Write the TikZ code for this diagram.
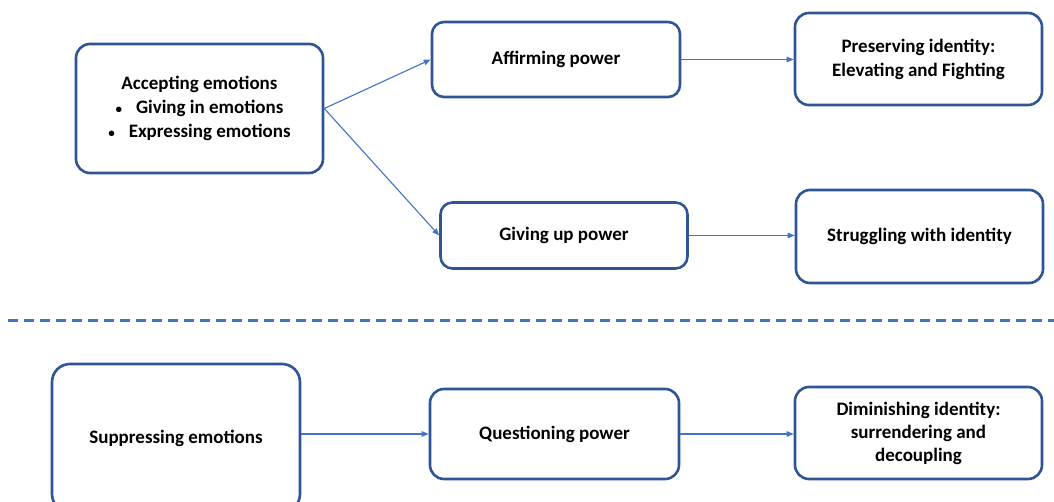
\documentclass[tikz,border=0pt]{standalone}
\usepackage{fontspec}
\setmainfont{Carlito}
\usetikzlibrary{arrows.meta}
\definecolor{boxblue}{HTML}{2F5597}
\definecolor{linkblue}{HTML}{4472C4}
\newcommand{\smallbul}{{\fontsize{13}{13}\selectfont\textbullet}}
\tikzset{
  box/.style={draw=boxblue, line width=2.6pt, rounded corners=14pt, fill=white,
    align=center, font=\fontsize{19}{24}\selectfont\bfseries, inner sep=2pt},
  link/.style={draw=linkblue, line width=1.1pt, -{Triangle[length=7pt,width=5.5pt]}},
}
\begin{document}
\begin{tikzpicture}[x=1pt,y=-1pt]
\clip (0,0) rectangle (1054,502);
\fill[white] (0,0) rectangle (1054,502);
\node[box, minimum width=247pt, minimum height=129pt] (acc) at (199.5,108.5)
  {Accepting emotions\\ \smallbul\hspace{14pt}Giving in emotions\\ \smallbul\hspace{14pt}Expressing emotions};
\node[box, minimum width=248pt, minimum height=75pt, rounded corners=12pt] (aff) at (556,59.5) {Affirming power};
\node[box, minimum width=247pt, minimum height=92pt] (pres) at (918.5,59) {Preserving identity:\\Elevating and Fighting};
\node[box, minimum width=247pt, minimum height=66pt, rounded corners=12pt] (giv) at (564,235.5) {Giving up power};
\node[box, minimum width=247pt, minimum height=93pt] (strug) at (919.5,236.5) {Struggling with identity};
\node[box, minimum width=248pt, minimum height=148pt, rounded corners=18pt] (sup) at (176,438) {Suppressing emotions};
\node[box, minimum width=249pt, minimum height=90pt] (que) at (554.5,434) {Questioning power};
\node[box, minimum width=247pt, minimum height=92pt, font=\fontsize{19}{23}\selectfont\bfseries] (dim) at (918.5,433) {Diminishing identity:\\surrendering and\\decoupling};
\draw[link] (acc.east) -- (aff.west);
\draw[link] (acc.east) -- (giv.west);
\draw[link] (aff.east) -- (pres.west |- aff.east);
\draw[link] (giv.east) -- (strug.west |- giv.east);
\draw[link] (sup.east |- que.west) -- (que.west);
\draw[link] (que.east) -- (dim.west |- que.east);
\coordinate (dl) at (8,321);
\coordinate (dr) at (1054,321);
\draw[linkblue, line width=3pt, dash pattern=on 10pt off 6pt] (dl) -- (dr);
\end{tikzpicture}
\end{document}
